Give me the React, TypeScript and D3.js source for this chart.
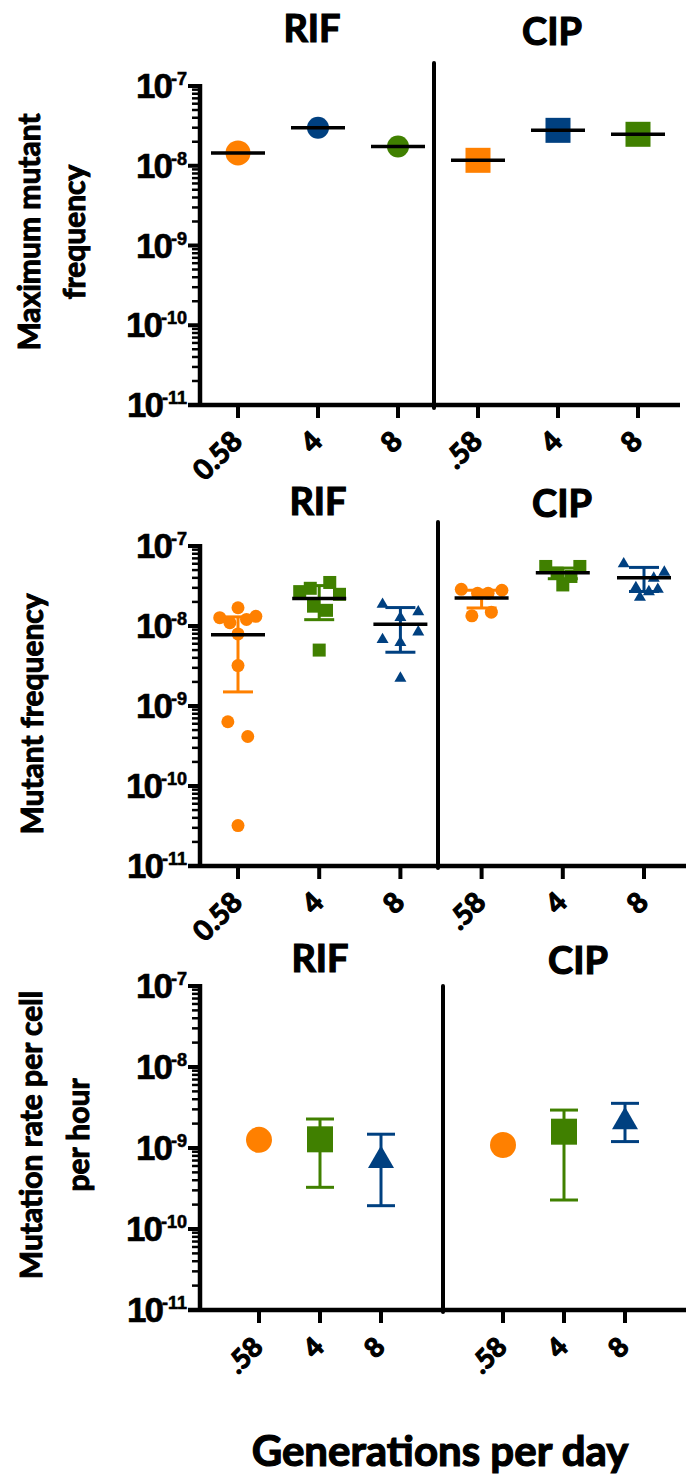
import React from "react";
import * as d3 from "d3";

const ORANGE = "#ff8000";
const BLUE = "#004080";
const GREEN = "#408000";

const drugs = ["RIF", "CIP"];
const decadeExponents = [-7, -8, -9, -10, -11];
const minorMultipliers = [2, 3, 4, 5, 6, 7, 8, 9];

// Panel 1: Maximum mutant frequency
const p1Categories = ["0.58", "4", "8", ".58", "4", "8"];
const p1Colors = [ORANGE, BLUE, GREEN, ORANGE, BLUE, GREEN];
const p1Shapes = ["circle", "circle", "circle", "square", "square", "square"];
const p1Values = [1.45e-8, 3.0e-8, 1.74e-8, 1.17e-8, 2.78e-8, 2.48e-8];

// Panel 2: Mutant frequency (individual replicates)
const p2Categories = ["0.58", "4", "8", ".58", "4", "8"];
const p2Colors = [ORANGE, GREEN, BLUE, ORANGE, GREEN, BLUE];
const p2Shapes = ["circle", "square", "triangle", "circle", "square", "triangle"];
const p2RifLow = [1.69e-8, 1.27e-8, 1.1e-8, 1.21e-8, 1.32e-8, 7.97e-9, 3.2e-9, 6.35e-10, 4.16e-10, 3.2e-11];
const p2RifLowJitter = [0, -0.225, -0.1, 0.105, 0.22, 0, 0, -0.125, 0.12, 0];
const p2RifMid = [2.69e-8, 2.96e-8, 3.5e-8, 2.49e-8, 1.77e-8, 1.57e-8, 5.0e-9];
const p2RifMidJitter = [-0.24, -0.11, 0.13, 0.25, -0.07, 0.09, 0];
const p2RifHigh = [1.96e-8, 1.58e-8, 1.34e-8, 8.85e-9, 7.1e-9, 6.52e-9, 2.34e-9];
const p2RifHighJitter = [-0.22, 0.22, 0, 0.22, -0.22, 0, 0];
const p2CipLow = [2.87e-8, 2.8e-8, 2.56e-8, 2.56e-8, 1.49e-8, 1.34e-8];
const p2CipLowJitter = [-0.25, 0.25, -0.05, 0.08, 0.12, -0.12];
const p2CipMid = [5.55e-8, 5.55e-8, 4.57e-8, 4.16e-8, 3.26e-8];
const p2CipMidJitter = [-0.21, 0.21, -0.07, 0.1, 0];
const p2CipHigh = [6.29e-8, 4.94e-8, 4.15e-8, 3.17e-8, 2.4e-8, 2.82e-8, 3.02e-8];
const p2CipHighJitter = [-0.25, 0.25, 0.12, -0.1, -0.05, 0.06, 0.17];
const p2Means = [7.8e-9, 2.2e-8, 1.05e-8, 2.24e-8, 4.62e-8, 4.0e-8];
const p2ErrHigh = [1.3e-8, 3.2e-8, 1.7e-8, 2.8e-8, 5.3e-8, 5.4e-8];
const p2ErrLow = [1.5e-9, 1.2e-8, 4.7e-9, 1.68e-8, 3.9e-8, 2.7e-8];

// Panel 3: Mutation rate per cell per hour
const p3Categories = [".58", "4", "8", ".58", "4", "8"];
const p3Colors = [ORANGE, GREEN, BLUE, ORANGE, GREEN, BLUE];
const p3Shapes = ["circle", "square", "triangle", "circle", "square", "triangle"];
const p3Values = [1.26e-9, 1.28e-9, 7.8e-10, 1.09e-9, 1.59e-9, 2.34e-9];
const p3ErrHigh = [null, 2.28e-9, 1.48e-9, null, 2.94e-9, 3.56e-9];
const p3ErrLow = [null, 3.27e-10, 1.94e-10, null, 2.28e-10, 1.2e-9];

const FONT = "Lato, 'Open Sans', sans-serif";
const NUMFONT = "'Liberation Sans', Arial, sans-serif";
const HEAVY = 700;

type PanelLayout = {
  top: number;
  bottom: number;
  axisX: number;
  axisEnd: number;
  slots: number[];
  slotMax: number;
  xLeft: number;
  xRight: number;
  divider: number;
  dividerTop: number;
  dividerBottom: number;
  titleX: number[];
  titleY: number[];
  labelDx: number;
  labelDy: number;
  labelSize: number;
  yTitle: string[];
  yTitleX: number[];
  yTitleY: number;
};

const layouts: PanelLayout[] = [
  {
    top: 86, bottom: 405, axisX: 200, axisEnd: 680, slots: [0, 1, 2, 3, 4, 5], slotMax: 5,
    xLeft: 238, xRight: 638, divider: 434, dividerTop: 63, dividerBottom: 408,
    titleX: [312, 552], titleY: [42, 45], labelDx: -1, labelDy: 31, labelSize: 28,
    yTitle: ["Maximum mutant", "frequency"], yTitleX: [40, 85], yTitleY: 232,
  },
  {
    top: 546, bottom: 866, axisX: 200, axisEnd: 686, slots: [0, 1, 2, 3, 4, 5], slotMax: 5,
    xLeft: 238, xRight: 644, divider: 438, dividerTop: 522, dividerBottom: 868,
    titleX: [318, 562], titleY: [515, 517], labelDx: -1, labelDy: 31, labelSize: 28,
    yTitle: ["Mutant frequency"], yTitleX: [43], yTitleY: 714,
  },
  {
    top: 986, bottom: 1310, axisX: 200, axisEnd: 686, slots: [0, 1, 2, 4, 5, 6], slotMax: 6,
    xLeft: 259, xRight: 625, divider: 443, dividerTop: 986, dividerBottom: 1312,
    titleX: [320, 578], titleY: [972, 974], labelDx: -1, labelDy: 32, labelSize: 27,
    yTitle: ["Mutation rate per cell", "per hour"], yTitleX: [42, 89], yTitleY: 1135,
  },
];

const heavyText = { stroke: "#000", strokeWidth: 1, paintOrder: "stroke" as const };

function Marker({ shape, x, y, size, color }: { shape: string; x: number; y: number; size: number; color: string }) {
  if (shape === "circle") {
    return <circle cx={x} cy={y} r={size / 2} fill={color} />;
  }
  if (shape === "square") {
    return <rect x={x - size / 2} y={y - size / 2} width={size} height={size} fill={color} />;
  }
  const area = (Math.sqrt(3) / 4) * size * size;
  const h = (size * Math.sqrt(3)) / 2;
  const path = d3.symbol(d3.symbolTriangle, area)() as string;
  return <path d={path} transform={`translate(${x},${y + h / 6})`} fill={color} />;
}

function Panel({ layout, categories, children }: { layout: PanelLayout; categories: string[]; children: (x: (i: number) => number, y: d3.ScaleLogarithmic<number, number>) => React.ReactNode }) {
  const y = d3.scaleLog().domain([1e-11, 1e-7]).range([layout.bottom, layout.top]);
  const xs = d3.scaleLinear().domain([0, layout.slotMax]).range([layout.xLeft, layout.xRight]);
  const x = (i: number) => xs(layout.slots[i]);
  const minor: number[] = [];
  decadeExponents.slice(1).forEach((e) => minorMultipliers.forEach((m) => minor.push(m * Math.pow(10, e))));
  return (
    <g>
      {drugs.map((d, i) => (
        <text key={d} x={layout.titleX[i]} y={layout.titleY[i]} textAnchor="middle" fontFamily={FONT} fontWeight={HEAVY} fontSize={38} {...heavyText} strokeWidth={1.2}>
          {d}
        </text>
      ))}
      {layout.yTitle.map((t, i) => (
        <text key={t} transform={`translate(${layout.yTitleX[i]},${layout.yTitleY}) rotate(-90)`} textAnchor="middle" fontFamily={FONT} fontWeight={HEAVY} fontSize={30} {...heavyText}>
          {t}
        </text>
      ))}
      {minor.map((v, i) => (
        <line key={"m" + i} x1={layout.axisX} x2={layout.axisX - 8} y1={y(v)} y2={y(v)} stroke="#000" strokeWidth={2.5} />
      ))}
      {decadeExponents.map((e) => {
        const yy = y(Math.pow(10, e));
        return (
          <g key={e}>
            <line x1={layout.axisX} x2={layout.axisX - 12} y1={yy} y2={yy} stroke="#000" strokeWidth={4} />
            <text x={layout.axisX - 13} y={yy + 12} textAnchor="end" fontFamily={NUMFONT} fontWeight={700} stroke="#000" strokeWidth={0.6}>
              <tspan fontSize={35} letterSpacing={-2}>10</tspan>
              <tspan fontSize={18} dy={-13}>{"-" + Math.abs(e)}</tspan>
            </text>
          </g>
        );
      })}
      <line x1={layout.axisX} x2={layout.axisX} y1={layout.top - 2} y2={layout.bottom + 2} stroke="#000" strokeWidth={4.5} />
      <line x1={layout.axisX - 12} x2={layout.axisEnd} y1={layout.bottom} y2={layout.bottom} stroke="#000" strokeWidth={4.5} />
      <line x1={layout.divider} x2={layout.divider} y1={layout.dividerTop} y2={layout.dividerBottom} stroke="#000" strokeWidth={4} strokeLinecap="round" />
      {categories.map((c, i) => (
        <g key={"t" + i}>
          <line x1={x(i)} x2={x(i)} y1={layout.bottom} y2={layout.bottom + 13} stroke="#000" strokeWidth={4} />
          <text
            transform={`translate(${x(i) + layout.labelDx},${layout.bottom + layout.labelDy}) rotate(-45)`}
            textAnchor="end"
            dy="0.35em"
            fontFamily={FONT}
            fontWeight={HEAVY}
            fontSize={layout.labelSize}
            {...heavyText}
            strokeWidth={1.2}
          >
            {c}
          </text>
        </g>
      ))}
      {children(x, y)}
    </g>
  );
}

export default function App() {
  const p2Groups = [
    { vals: p2RifLow, jit: p2RifLowJitter },
    { vals: p2RifMid, jit: p2RifMidJitter },
    { vals: p2RifHigh, jit: p2RifHighJitter },
    { vals: p2CipLow, jit: p2CipLowJitter },
    { vals: p2CipMid, jit: p2CipMidJitter },
    { vals: p2CipHigh, jit: p2CipHighJitter },
  ];
  return (
    <svg width={686} height={1479} style={{ position: "absolute", left: 0, top: 0, background: "#fff" }}>
      <rect width={686} height={1479} fill="#fff" />
      <Panel layout={layouts[0]} categories={p1Categories}>
        {(x, y) => (
          <g>
            {p1Values.map((v, i) => (
              <g key={i}>
                <Marker shape={p1Shapes[i]} x={x(i)} y={y(v)} size={i === 0 || i >= 3 ? 25 : 22} color={p1Colors[i]} />
                <line x1={x(i) - 27} x2={x(i) + 27} y1={y(v)} y2={y(v)} stroke="#000" strokeWidth={3.5} />
              </g>
            ))}
          </g>
        )}
      </Panel>
      <Panel layout={layouts[1]} categories={p2Categories}>
        {(x, y) => {
          const step = x(1) - x(0);
          return (
            <g>
              {p2Groups.map((g, i) => (
                <g key={i}>
                  {g.vals.map((v, j) => (
                    <Marker key={j} shape={p2Shapes[i]} x={x(i) + g.jit[j] * step} y={y(v)} size={p2Shapes[i] === "triangle" ? 12 : 13} color={p2Colors[i]} />
                  ))}
                  <line x1={x(i)} x2={x(i)} y1={y(p2ErrHigh[i])} y2={y(p2ErrLow[i])} stroke={p2Colors[i]} strokeWidth={3} />
                  <line x1={x(i) - 15} x2={x(i) + 15} y1={y(p2ErrHigh[i])} y2={y(p2ErrHigh[i])} stroke={p2Colors[i]} strokeWidth={3} />
                  <line x1={x(i) - 15} x2={x(i) + 15} y1={y(p2ErrLow[i])} y2={y(p2ErrLow[i])} stroke={p2Colors[i]} strokeWidth={3} />
                  <line x1={x(i) - 27} x2={x(i) + 27} y1={y(p2Means[i])} y2={y(p2Means[i])} stroke="#000" strokeWidth={3.5} />
                </g>
              ))}
            </g>
          );
        }}
      </Panel>
      <Panel layout={layouts[2]} categories={p3Categories}>
        {(x, y) => (
          <g>
            {p3Values.map((v, i) => {
              const hi = p3ErrHigh[i];
              const lo = p3ErrLow[i];
              return (
                <g key={i}>
                  {hi !== null && lo !== null && (
                    <g>
                      <line x1={x(i)} x2={x(i)} y1={y(hi)} y2={y(lo)} stroke={p3Colors[i]} strokeWidth={3} />
                      <line x1={x(i) - 14} x2={x(i) + 14} y1={y(hi)} y2={y(hi)} stroke={p3Colors[i]} strokeWidth={3} />
                      <line x1={x(i) - 14} x2={x(i) + 14} y1={y(lo)} y2={y(lo)} stroke={p3Colors[i]} strokeWidth={3} />
                    </g>
                  )}
                  <Marker shape={p3Shapes[i]} x={x(i)} y={y(v)} size={26} color={p3Colors[i]} />
                </g>
              );
            })}
          </g>
        )}
      </Panel>
      <text x={440} y={1466} textAnchor="middle" fontFamily={FONT} fontWeight={HEAVY} fontSize={42} {...heavyText} strokeWidth={1.2}>
        Generations per day
      </text>
    </svg>
  );
}
